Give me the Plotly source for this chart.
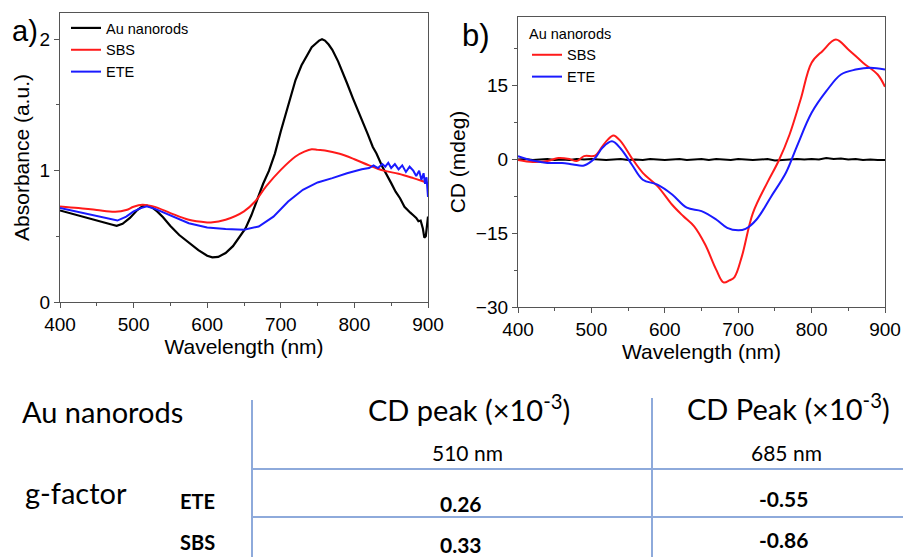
import plotly.graph_objects as go

W, H = 903, 557

# ---------------- Data: panel a (absorbance) ----------------
wl_abs_au = [400, 420, 440, 460, 470, 477, 485, 495, 505, 512, 518, 525, 532, 540, 550, 562, 575, 588, 600,
             607, 615, 625, 635, 645, 652, 660, 668, 676, 684, 692, 700, 710, 720, 728, 735, 742, 748, 752,
             756, 760, 765, 770, 778, 785, 790, 798, 805, 810, 818, 825, 830, 838, 845, 850, 856, 862, 868,
             872, 876, 880, 884, 887, 890, 893, 895, 897, 899, 900]
abs_au = [0.697, 0.665, 0.635, 0.605, 0.59, 0.58, 0.595, 0.64, 0.70, 0.728, 0.733, 0.72, 0.69, 0.645, 0.578, 0.51, 0.45, 0.395, 0.352,
          0.34, 0.343, 0.373, 0.425, 0.5, 0.56, 0.66, 0.78, 0.9, 1.0, 1.13, 1.30, 1.50, 1.69, 1.80, 1.87, 1.94, 1.97, 1.99,
          2.0, 1.99, 1.96, 1.92, 1.83, 1.74, 1.665, 1.55, 1.46, 1.39, 1.28, 1.18, 1.13, 1.03, 0.95, 0.905, 0.84, 0.79, 0.725,
          0.70, 0.68, 0.66, 0.64, 0.615, 0.62, 0.56, 0.49, 0.50, 0.62, 0.65]

wl_abs_sbs = [400, 425, 450, 475, 490, 500, 512, 520, 530, 550, 575, 600, 605, 625, 650, 665, 680, 700, 720, 732,
              742, 750, 760, 780, 800, 820, 840, 860, 880, 890, 900]
abs_sbs = [0.727, 0.715, 0.70, 0.687, 0.70, 0.725, 0.74, 0.735, 0.722, 0.677, 0.626, 0.606, 0.605, 0.626, 0.69, 0.765, 0.88,
           1.006, 1.108, 1.145, 1.163, 1.158, 1.153, 1.128, 1.087, 1.04, 1.0, 0.976, 0.943, 0.925, 0.905]

wl_abs_ete = [400, 425, 450, 465, 478, 490, 500, 510, 518, 530, 550, 575, 600, 625, 650, 670, 690, 710, 730, 750,
              770, 790, 810, 820, 826, 832, 838, 842, 846, 850, 855, 860, 865, 870, 875, 880, 884, 888, 891, 894,
              896, 898, 900]
abs_ete = [0.715, 0.685, 0.657, 0.635, 0.62, 0.65, 0.69, 0.715, 0.728, 0.707, 0.657, 0.60, 0.568, 0.555, 0.55, 0.575, 0.65,
           0.765, 0.854, 0.91, 0.943, 0.98, 1.01, 1.02, 1.04, 1.02, 1.05, 1.03, 1.06, 1.02, 1.05, 1.01, 1.04, 0.99, 1.03,
           1.0, 0.96, 1.0, 0.93, 0.98, 0.90, 0.95, 0.80]

# ---------------- Data: panel b (CD) ----------------
wl_cd_au = list(range(400, 901, 10))
cd_au = [0.0, 0.1, -0.1, 0.0, 0.1, -0.1, 0.0, -0.1, 0.1, 0.0, 0.1, 0.0, -0.1, 0.0, 0.1, -0.1, 0.0, -0.1, 0.1, 0.0,
         -0.1, 0.0, 0.1, -0.1, 0.0, 0.1, -0.1, 0.1, 0.0, -0.1, 0.1, 0.0, -0.1, 0.0, 0.1, -0.2, -0.1, 0.0, 0.1, 0.0,
         0.1, 0.0, 0.3, 0.1, 0.2, 0.0, 0.1, -0.1, 0.0, -0.1, -0.1]

wl_cd_sbs = [400, 420, 440, 455, 470, 480, 490, 505, 515, 522, 530, 540, 555, 570, 590, 610, 625, 640, 655, 670,
             680, 688, 695, 705, 720, 740, 755, 770, 785, 800, 815, 833, 850, 870, 890, 900]
cd_sbs = [-0.1, -0.5, -0.3, 0.3, 0.1, -0.3, 0.7, 0.8, 2.7, 4.0, 4.9, 3.7, 0.3, -2.7, -5.4, -9.2, -11.5, -13.6, -17.3, -22.4,
          -25.0, -24.6, -23.9, -19.7, -10.9, -4.6, -0.3, 5.1, 12.2, 19.7, 22.1, 24.4, 22.4, 19.7, 17.3, 14.8]

wl_cd_ete = [400, 420, 440, 460, 475, 490, 505, 515, 528, 540, 555, 570, 590, 610, 630, 650, 670, 685, 700, 710,
             725, 745, 765, 780, 800, 820, 840, 860, 880, 900]
cd_ete = [0.7, -0.2, -0.7, -0.7, -1.0, -1.2, 0.3, 2.4, 3.7, 2.2, -1.0, -4.1, -5.1, -7.1, -9.8, -10.5, -12.2, -13.9, -14.4, -14.1,
          -12.2, -7.5, -2.7, 2.7, 9.5, 13.9, 17.3, 18.3, 18.7, 18.3]

# ---------------- Data: table ----------------
table_title = "Au nanorods"
row_label = "g-factor"
col_headers = ["CD peak (×10<sup>-3</sup>)", "CD Peak (×10<sup>-3</sup>)"]
col_wavelengths = ["510 nm", "685 nm"]
samples = ["ETE", "SBS"]
g_510 = ["0.26", "0.33"]
g_685 = ["-0.55", "-0.86"]

BLACK, RED, BLUE = "#000000", "#FF1A1A", "#1A1AFF"
AX_FONT = "Liberation Sans, Arial, sans-serif"
TB_FONT = "Lato, Carlito, sans-serif"

fig = go.Figure()
fig.add_trace(go.Scatter(x=wl_abs_au, y=abs_au, name="Au nanorods", mode="lines",
                         line=dict(color=BLACK, width=2.2), xaxis="x", yaxis="y", legend="legend"))
fig.add_trace(go.Scatter(x=wl_abs_sbs, y=abs_sbs, name="SBS", mode="lines", line_shape="spline",
                         line=dict(color=RED, width=2), xaxis="x", yaxis="y", legend="legend"))
fig.add_trace(go.Scatter(x=wl_abs_ete, y=abs_ete, name="ETE", mode="lines",
                         line=dict(color=BLUE, width=2), xaxis="x", yaxis="y", legend="legend"))

fig.add_trace(go.Scatter(x=wl_cd_au, y=cd_au, name="Au nanorods", mode="lines", showlegend=False,
                         line=dict(color=BLACK, width=2), xaxis="x2", yaxis="y2"))
fig.add_trace(go.Scatter(x=wl_cd_sbs, y=cd_sbs, name="SBS", mode="lines", line_shape="spline",
                         line=dict(color=RED, width=2), xaxis="x2", yaxis="y2", legend="legend2"))
fig.add_trace(go.Scatter(x=wl_cd_ete, y=cd_ete, name="ETE", mode="lines", line_shape="spline",
                         line=dict(color=BLUE, width=2), xaxis="x2", yaxis="y2", legend="legend2"))


def px(x):
    return x / W


def py(y):
    return 1 - y / H


axis_common = dict(showgrid=False, zeroline=False, showline=True, mirror=True, linecolor="#555555", linewidth=1.3,
                   ticks="outside", ticklen=5, tickwidth=1.3, tickcolor="#555555", automargin=False,
                   tickfont=dict(family=AX_FONT, size=19, color="black"))

fig.update_layout(
    width=W, height=H, margin=dict(l=0, r=0, t=0, b=0, autoexpand=False),
    paper_bgcolor="white", plot_bgcolor="white",
    xaxis=dict(domain=[px(60), px(428)], range=[400, 900], tickvals=[400, 500, 600, 700, 800, 900],
               minor=dict(tickvals=[450, 550, 650, 750, 850], ticklen=3, tickcolor="#555555", ticks="outside"),
               anchor="y", title=dict(text="Wavelength (nm)", font=dict(family=AX_FONT, size=21, color="black"),
                                      standoff=0), **axis_common),
    yaxis=dict(domain=[py(302), py(13)], range=[0, 2.2], tickvals=[0, 1, 2],
               minor=dict(tickvals=[0.5, 1.5], ticklen=3, tickcolor="#555555", ticks="outside"),
               anchor="x", title=dict(text="Absorbance (a.u.)", font=dict(family=AX_FONT, size=21, color="black"),
                                      standoff=4), **axis_common),
    xaxis2=dict(domain=[px(518), px(885)], range=[400, 900], tickvals=[400, 500, 600, 700, 800, 900],
                minor=dict(tickvals=[450, 550, 650, 750, 850], ticklen=3, tickcolor="#555555", ticks="outside"),
                anchor="y2", title=dict(text="Wavelength (nm)", font=dict(family=AX_FONT, size=21, color="black"),
                                        standoff=0), **axis_common),
    yaxis2=dict(domain=[py(307), py(17)], range=[-30, 29], tickvals=[-30, -15, 0, 15],
                minor=dict(tickvals=[-22.5, -7.5, 7.5, 22.5], ticklen=3, tickcolor="#555555", ticks="outside"),
                anchor="x2", title=dict(text="CD (mdeg)", font=dict(family=AX_FONT, size=21, color="black"),
                                        standoff=4), **axis_common),
    legend=dict(x=px(66), y=py(12), xanchor="left", yanchor="top", bgcolor="rgba(0,0,0,0)",
                font=dict(family=AX_FONT, size=14.5, color="black"), tracegroupgap=0, itemwidth=30),
    legend2=dict(x=px(527), y=py(20), xanchor="left", yanchor="top", bgcolor="rgba(0,0,0,0)",
                 title=dict(text="Au nanorods", font=dict(family=AX_FONT, size=14.5, color="black")),
                 font=dict(family=AX_FONT, size=14.5, color="black"), tracegroupgap=0, itemwidth=30),
    showlegend=True,
)

ann = []


def add_text(text, x, y, size, xanchor="center", bold=False, font=TB_FONT):
    ann.append(dict(text=(f"<b>{text}</b>" if bold else text), x=px(x), y=py(y), xref="paper", yref="paper",
                    xanchor=xanchor, yanchor="middle", showarrow=False,
                    font=dict(family=font, size=size, color="black")))


# panel labels
add_text("a)", 10, 31, 29, xanchor="left", font=AX_FONT)
add_text("b)", 460, 35, 31, xanchor="left", font=AX_FONT)

# table text
add_text(table_title, 20, 411, 29, xanchor="left")
add_text(row_label, 23, 492, 29, xanchor="left")
col_x = [469, 788]
head_y = [408, 407]
for i in range(2):
    add_text(col_headers[i], col_x[i], head_y[i], 29)
    add_text(col_wavelengths[i], col_x[i] - 2, 452, 21)
row_y = [501, 542]
for j in range(2):
    add_text(samples[j], 197, row_y[j], 20, bold=True)
    add_text(g_510[j], 461, row_y[j] + 2, 21, bold=True)
    add_text(g_685[j], 783, row_y[j] - 3, 21, bold=True)
fig.update_layout(annotations=ann)

LINE_C = "#8EAADB"
shapes = [
    dict(type="line", xref="paper", yref="paper", x0=px(252), x1=px(252), y0=py(400), y1=0,
         line=dict(color=LINE_C, width=2)),
    dict(type="line", xref="paper", yref="paper", x0=px(652), x1=px(652), y0=py(398), y1=0,
         line=dict(color=LINE_C, width=2)),
    dict(type="line", xref="paper", yref="paper", x0=px(252), x1=1, y0=py(469), y1=py(469),
         line=dict(color=LINE_C, width=2)),
    dict(type="line", xref="paper", yref="paper", x0=px(252), x1=1, y0=py(517), y1=py(517),
         line=dict(color=LINE_C, width=2)),
]
fig.update_layout(shapes=shapes)

# remove the default 8px page margin so the 903x557 figure fills the window exactly
fig.write_html("out.html", config={"displayModeBar": False},
               post_script="document.body.style.margin='0';document.body.style.overflow='hidden';")
